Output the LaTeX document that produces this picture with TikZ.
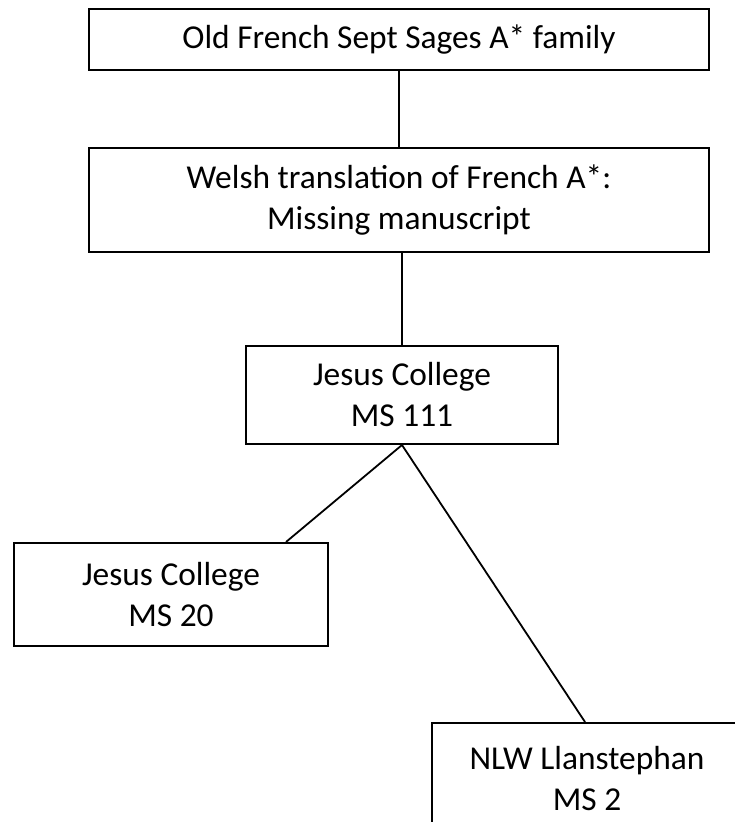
\documentclass[tikz,border=0pt]{standalone}
\usepackage{fontspec}
\setmainfont{Carlito}
\usepackage{tikz}
\tikzstyle{msbox} = [draw, line width=1pt, align=center, inner sep=0pt, font=\fontsize{16.7}{20.5}\selectfont]
\tikzstyle{link} = [line width=0.9pt]

\begin{document}
\begin{tikzpicture}[x=0.5pt,y=-0.5pt]
			\useasboundingbox (0,0) rectangle (734,822);
			\node[msbox, minimum width=310pt, minimum height=30.5pt] (afam) at (399,39.5) {Old French Sept Sages A* family};
			\node[msbox, minimum width=310pt, minimum height=52pt] (welsh) at (399,200) {Welsh translation of French A*:\\Missing manuscript};
			\node[msbox, minimum width=156pt, minimum height=49pt] (jc111) at (402,395) {Jesus College\\MS 111};
			\node[msbox, minimum width=157pt, minimum height=51.5pt] (jc20) at (171,594.5) {Jesus College\\MS 20};
			\node[msbox, minimum width=155pt, minimum height=56pt] (llan) at (587,779) {NLW Llanstephan\\MS 2};
			\draw[link] (afam) -- (welsh);
			\draw[link] (welsh.south -| jc111.north) -- (jc111);
			\draw[link] (jc111.south) -- (jc20.north -| 286,0);
			\draw[link] (jc111.south) -- (llan.north -| 585,0);
		\end{tikzpicture}
\end{document}
